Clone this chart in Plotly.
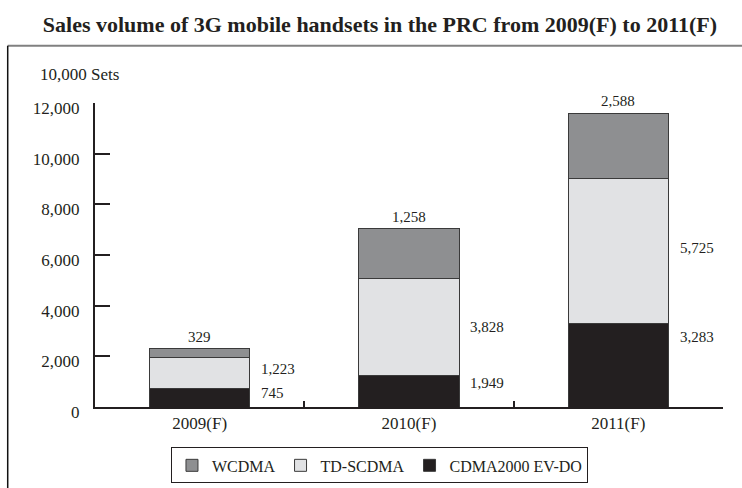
"""
Sales volume of 3G mobile handsets in the PRC, stacked bars.
"""

import plotly.graph_objects as go

FONT = "Liberation Serif, Times New Roman, serif"
INK = "#231f20"

years = ["2009(F)", "2010(F)", "2011(F)"]
# segment heights as drawn in the picture
cdma2000 = [745, 1258, 3283]
td_scdma = [1223, 3828, 5725]
wcdma = [329, 1949, 2588]
# label texts as printed in the picture
cdma2000_text = ["745", "1,949", "3,283"]
td_scdma_text = ["1,223", "3,828", "5,725"]
wcdma_text = ["329", "1,258", "2,588"]

series = [
    ("CDMA2000 EV-DO", cdma2000, cdma2000_text, "#231f20"),
    ("TD-SCDMA", td_scdma, td_scdma_text, "#e1e2e4"),
    ("WCDMA", wcdma, wcdma_text, "#8e8f91"),
]

BAR_W = 0.48

fig = go.Figure()
for name, vals, _, color in series:
    fig.add_trace(go.Bar(
        x=years, y=vals, name=name, width=BAR_W,
        marker=dict(color=color, line=dict(color="#3a3a3a", width=1)),
    ))

# value labels: WCDMA above bar, the other two beside the bar
side_shift = {"CDMA2000 EV-DO": [5, 8, 28], "TD-SCDMA": [4, 0, 3]}
for i, yr in enumerate(years):
    base = 0
    for name, vals, texts, _ in series:
        v = vals[i]
        if name == "WCDMA":
            fig.add_annotation(x=yr, y=base + v, text=texts[i], showarrow=False,
                               yanchor="bottom", yshift=2,
                               font=dict(family=FONT, size=15, color=INK))
        else:
            fig.add_annotation(x=i + BAR_W / 2, y=base + v / 2, text=texts[i],
                               showarrow=False, xanchor="left", xshift=9,
                               yshift=side_shift[name][i],
                               font=dict(family=FONT, size=15, color=INK))
        base += v

fig.add_annotation(xref="paper", yref="paper", x=-0.09, y=1.095,
                   text="10,000 Sets", showarrow=False, xanchor="left",
                   yanchor="middle",
                   font=dict(family=FONT, size=17, color=INK))

# outer frame: grey top rule, black left rule
fig.add_shape(type="line", xref="paper", yref="paper", x0=-0.139, x1=1.1,
              y0=1.188, y1=1.188, line=dict(color="#808080", width=2))
fig.add_shape(type="line", xref="paper", yref="paper", x0=-0.139, x1=-0.139,
              y0=1.188, y1=-0.3, line=dict(color="#111111", width=1.5))

fig.update_layout(
    title=dict(text="<b>Sales volume of 3G mobile handsets in the PRC from 2009(F) to 2011(F)</b>",
               x=0.512, xanchor="center", y=0.951, yanchor="middle",
               font=dict(family=FONT, size=22, color=INK)),
    barmode="stack",
    width=742, height=488,
    margin=dict(l=95, r=19, t=103, b=81, autoexpand=False),
    paper_bgcolor="white", plot_bgcolor="white",
    font=dict(family=FONT, size=17, color=INK),
    showlegend=True,
    legend=dict(orientation="h", traceorder="reversed", x=0.453, xanchor="center",
                y=-0.133, yanchor="top", bordercolor="#231f20", borderwidth=1,
                font=dict(family=FONT, size=16, color=INK),
                itemwidth=30, tracegroupgap=0),
)
fig.update_xaxes(type="category", range=[-0.5, 2.5], showline=True, linecolor=INK,
                 linewidth=2, ticks="inside", tickson="boundaries", ticklen=6,
                 tickwidth=2, tickcolor=INK, showgrid=False, zeroline=False)
fig.update_yaxes(range=[0, 12000], dtick=2000, tickformat=",", showline=True,
                 linecolor=INK, linewidth=2, ticks="inside", ticklen=15, tickwidth=2,
                 tickcolor=INK, showgrid=False, zeroline=False, ticklabelstandoff=10,
                 ticklabelshift=5)

fig.write_html("out.html", config={"displayModeBar": False},
               post_script="document.body.style.margin='0';")
